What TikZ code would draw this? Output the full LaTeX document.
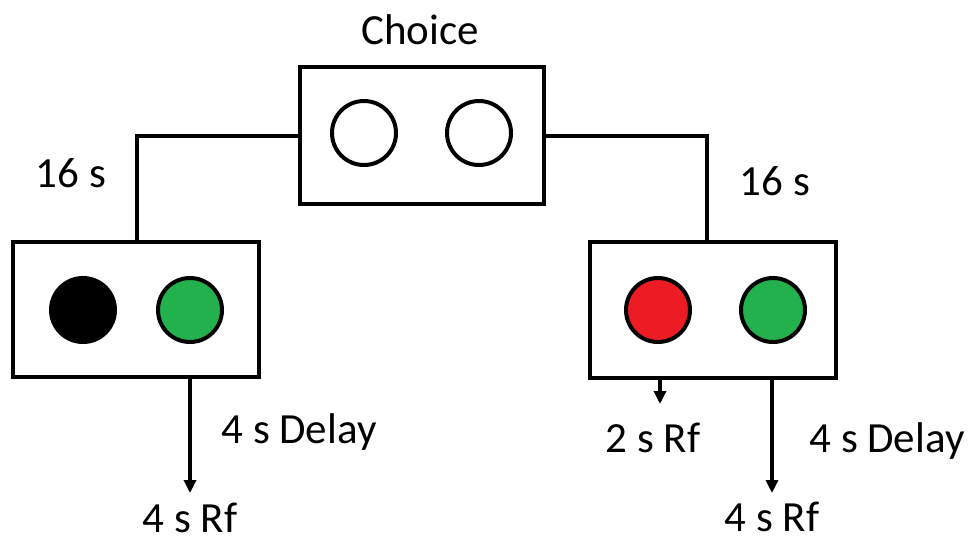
\documentclass[tikz,border=0pt]{standalone}
\usepackage{fontspec}
\setmainfont{Carlito}
\usetikzlibrary{arrows.meta}
\begin{document}
\begin{tikzpicture}[x=1pt,y=-1pt,
  box/.style={draw,line width=4pt,inner sep=0pt},
  light/.style={circle,draw,line width=4pt,minimum size=64pt,inner sep=0pt},
  lbl/.style={anchor=base,inner sep=0pt,font=\fontsize{43}{50}\selectfont},
  conn/.style={line width=4pt},
  arr/.style={line width=3.3pt,-{Triangle[width=12pt,length=13pt]}}]
\useasboundingbox (0,0) rectangle (969,542);
% boxes
\node[box,minimum width=244pt,minimum height=137pt] (top) at (422,135.5) {};
\node[box,minimum width=246pt,minimum height=135pt] (left) at (136,309.5) {};
\node[box,minimum width=246pt,minimum height=136pt] (right) at (713,310) {};
% lights
\node[light] (t1) at (364,133) {};
\node[light] (t2) at (479,133) {};
\node[light,fill=black,draw=black] (l1) at (83,310) {};
\node[light,fill={rgb,255:red,34;green,177;blue,76}] (l2) at (190,310) {};
\node[light,fill={rgb,255:red,237;green,28;blue,36}] (r1) at (658,310) {};
\node[light,fill={rgb,255:red,34;green,177;blue,76}] (r2) at (773,310) {};
% connector coordinates
\coordinate (tl) at (top.west |- 0,136);
\coordinate (tr) at (top.east |- 0,136);
\coordinate (lt) at (137,0 |- left.north);
\coordinate (rt) at (707,0 |- right.north);
\coordinate (lb) at (190,0 |- left.south);
\coordinate (rb1) at (660,0 |- right.south);
\coordinate (rb2) at (772,0 |- right.south);
\coordinate (le) at (190,493);
\coordinate (re1) at (660,404);
\coordinate (re2) at (772,493);
\draw[conn] (tl) -| (lt);
\draw[conn] (tr) -| (rt);
\draw[arr] (lb) -- (le);
\draw[arr] (rb1) -- (re1);
\draw[arr] (rb2) -- (re2);
% labels
\node[lbl] (choice) at (420,44) {Choice};
\node[lbl] (s16l) at (71,187) {16 s};
\node[lbl] (s16r) at (775,195) {16 s};
\node[lbl] (dl) at (299,443) {4 s Delay};
\node[lbl] (rfl) at (190,532) {4 s Rf};
\node[lbl] (rf2) at (653,452) {2 s Rf};
\node[lbl] (dr) at (887,452) {4 s Delay};
\node[lbl] (rfr) at (772,531) {4 s Rf};
\end{tikzpicture}
\end{document}
